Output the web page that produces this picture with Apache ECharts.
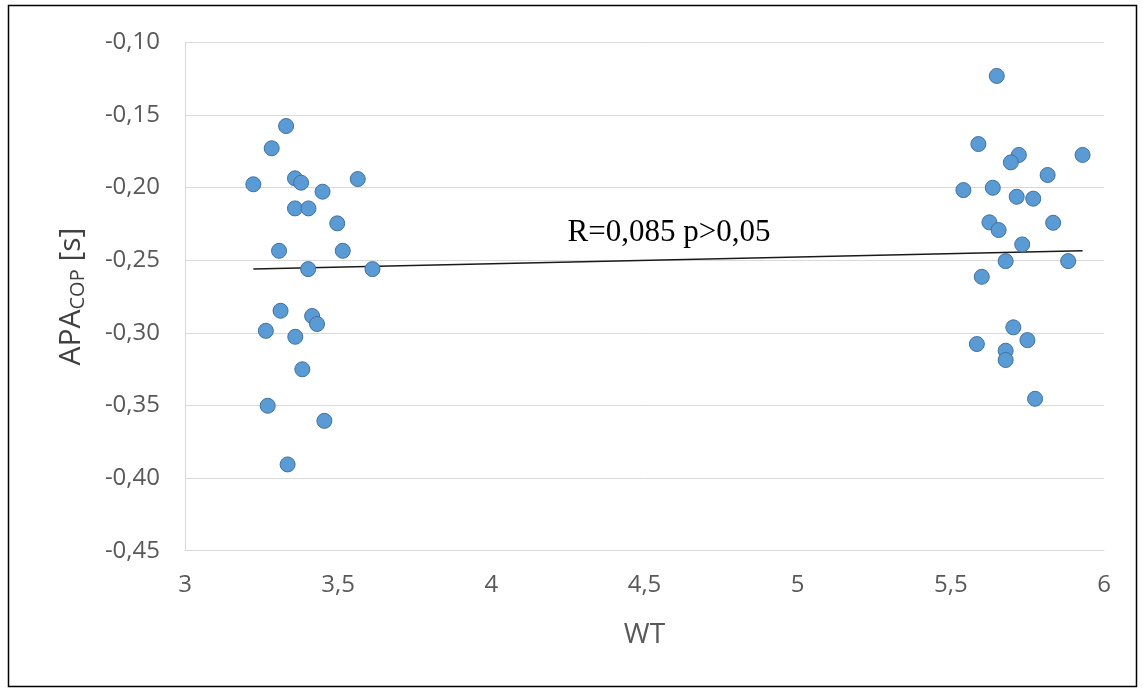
<!DOCTYPE html>
<html>
<head>
<meta charset="utf-8">
<script src="https://cdn.jsdelivr.net/npm/echarts@6/dist/echarts.min.js"></script>
<style>
html,body{margin:0;padding:0;background:#fff;}
#chart{width:1143px;height:691px;}
</style>
</head>
<body>
<div id="chart"></div>
<script>
// WT values (x) and APA_COP values (y)
const wtValues = [
  3.330, 3.283, 3.223, 3.359, 3.379, 3.449, 3.564, 3.359, 3.403, 3.497,
  3.307, 3.515, 3.402, 3.612, 3.312, 3.415, 3.431, 3.264, 3.360, 3.383,
  3.270, 3.455, 3.335,
  5.650, 5.590, 5.722, 5.696, 5.930, 5.816, 5.541, 5.637, 5.715, 5.769,
  5.626, 5.656, 5.834, 5.733, 5.679, 5.883, 5.601, 5.704, 5.585, 5.750,
  5.679, 5.679, 5.775
];
const apaValues = [
  -0.1576, -0.1729, -0.1977, -0.1936, -0.1966, -0.2028, -0.1941, -0.2143, -0.2143, -0.2246,
  -0.2435, -0.2435, -0.2561, -0.2561, -0.2848, -0.2884, -0.2939, -0.2986, -0.3027, -0.3251,
  -0.3502, -0.3606, -0.3906,
  -0.1231, -0.1700, -0.1775, -0.1826, -0.1775, -0.1913, -0.2017, -0.2001, -0.2063, -0.2076,
  -0.2239, -0.2292, -0.2242, -0.2391, -0.2506, -0.2506, -0.2614, -0.2962, -0.3077, -0.3050,
  -0.3123, -0.3187, -0.3454
];
// linear trend line endpoints
const trendX = [3.223, 5.930];
const trendY = [-0.2561, -0.2435];
const annotationText = 'R=0,085 p>0,05';
const annotationAt = [4.58, -0.2313];
const xTicks = {min: 3, max: 6, interval: 0.5};
const yTicks = {min: -0.45, max: -0.10, interval: 0.05};

const points = wtValues.map((x, i) => [x, apaValues[i]]);
const trend = trendX.map((x, i) => [x, trendY[i]]);
const comma = v => String(v).replace('.', ',');

const chart = echarts.init(document.getElementById('chart'), null, {renderer: 'canvas'});
chart.setOption({
  animation: false,
  backgroundColor: '#ffffff',
  grid: {left: 185, right: 39, top: 42.4, bottom: 140.3, containLabel: false},
  xAxis: {
    type: 'value', min: xTicks.min, max: xTicks.max, interval: xTicks.interval,
    name: 'WT', nameLocation: 'middle', nameGap: 70,
    nameTextStyle: {fontFamily: 'Open Sans', fontSize: 28, color: '#595959'},
    axisLine: {show: true, onZero: false, lineStyle: {color: '#d9d9d9', width: 1}},
    axisTick: {show: false},
    splitLine: {show: false},
    axisLabel: {margin: 22, fontFamily: 'Open Sans', fontSize: 24, color: '#595959',
      formatter: v => comma(v)}
  },
  yAxis: {
    type: 'value', min: yTicks.min, max: yTicks.max, interval: yTicks.interval,
    name: '{a|APA}{sub|COP}{a| [s]}', nameLocation: 'middle', nameGap: 96,
    nameTextStyle: {
      rich: {
        a: {fontFamily: 'Open Sans', fontSize: 30, color: '#404040', lineHeight: 36},
        sub: {fontFamily: 'Open Sans', fontSize: 20, color: '#404040', lineHeight: 36, padding: [14, 0, 0, 0]}
      }
    },
    axisLine: {show: true, onZero: false, lineStyle: {color: '#d9d9d9', width: 1}},
    axisTick: {show: false},
    splitLine: {show: true, lineStyle: {color: '#d9d9d9', width: 1}},
    axisLabel: {margin: 25, fontFamily: 'Open Sans', fontSize: 24, color: '#595959',
      formatter: v => comma(v.toFixed(2))}
  },
  series: [
    {
      type: 'line', data: trend, symbol: 'none', z: 1,
      lineStyle: {color: '#1a1a1a', width: 1.5},
      markPoint: {
        symbol: 'circle', symbolSize: 0,
        data: [{coord: annotationAt}],
        label: {show: true, position: 'inside', formatter: annotationText,
          fontFamily: 'Liberation Serif', fontSize: 31, color: '#000000'}
      }
    },
    {
      type: 'scatter', data: points, symbol: 'circle', symbolSize: 15, z: 3,
      itemStyle: {color: '#5b9bd5', borderColor: '#41719c', borderWidth: 1, opacity: 1}
    }
  ],
  graphic: [{
    type: 'rect', shape: {x: 8.5, y: 5.5, width: 1128, height: 681},
    style: {fill: 'none', stroke: '#000000', lineWidth: 1.5}, z: 100, silent: true
  }]
});
</script>
</body>
</html>
